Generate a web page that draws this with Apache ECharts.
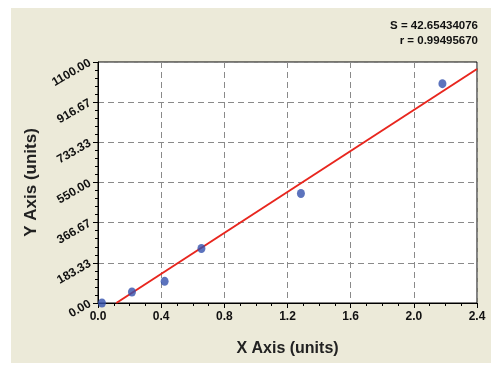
<!DOCTYPE html>
<html><head><meta charset="utf-8">
<script src="https://cdn.jsdelivr.net/npm/echarts@6/dist/echarts.min.js"></script>
<style>html,body{margin:0;padding:0;background:#fff}#c{width:501px;height:372px}</style>
</head><body><div id="c"></div>
<script>
const xValues = [0.025, 0.215, 0.422, 0.655, 1.285, 2.181];
const yValues = [0, 50, 99, 249, 500, 1001];
const fitX = [0.116, 2.4];
const fitY = [0, 1068];
const statLines = ['S = 42.65434076', 'r = 0.99495670'];
const xTitle = 'X Axis (units)';
const yTitle = 'Y Axis (units)';

const chart = echarts.init(document.getElementById('c'));
const font = 'Arial, "Liberation Sans", sans-serif';
const statGraphics = statLines.map((t, i) => ({
  type: 'text', right: 23, top: 20 + i * 15,
  style: {text: t, font: 'bold 11.5px ' + font, fill: '#111'}
}));
chart.setOption({
  backgroundColor: '#ffffff',
  animation: false,
  graphic: [
    {type: 'rect', z: -10, shape: {x: 11, y: 8, width: 480, height: 355}, style: {fill: '#ecead9'}}
  ].concat(statGraphics),
  grid: {left: 98, right: 24, top: 62, bottom: 69, show: true, backgroundColor: '#ffffff', borderColor: '#000', borderWidth: 1},
  xAxis: {
    type: 'value', min: 0, max: 2.4, interval: 0.4,
    name: xTitle, nameLocation: 'middle', nameGap: 38,
    nameTextStyle: {fontFamily: font, fontWeight: 'bold', fontSize: 16, color: '#222'},
    axisLine: {lineStyle: {color: '#000', width: 1}},
    axisTick: {show: true, length: 5, lineStyle: {color: '#000'}},
    minorTick: {show: true, splitNumber: 4, length: 3, lineStyle: {color: '#000'}},
    axisLabel: {formatter: v => v.toFixed(1), fontFamily: font, fontWeight: 'bold', fontSize: 12, color: '#111', margin: 8},
    splitLine: {show: true, lineStyle: {color: '#8a8a8a', type: [6, 4], width: 1}}
  },
  yAxis: {
    type: 'value', min: 0, max: 1100, interval: 1100 / 6,
    name: yTitle, nameLocation: 'middle', nameGap: 57, nameRotate: 90,
    nameTextStyle: {fontFamily: font, fontWeight: 'bold', fontSize: 17, color: '#222'},
    axisLine: {show: true, lineStyle: {color: '#000', width: 1}},
    axisTick: {show: true, length: 5, lineStyle: {color: '#000'}},
    minorTick: {show: true, splitNumber: 5, length: 3, lineStyle: {color: '#000'}},
    axisLabel: {formatter: v => v.toFixed(2), rotate: 30, fontFamily: font, fontWeight: 'bold', fontSize: 12, color: '#111', margin: 8},
    splitLine: {show: true, lineStyle: {color: '#8a8a8a', type: [6, 4], width: 1}}
  },
  series: [
    {type: 'line', data: fitX.map((x, i) => [x, fitY[i]]), symbol: 'none', lineStyle: {color: '#e8261e', width: 2}, z: 3},
    {type: 'scatter', data: xValues.map((x, i) => [x, yValues[i]]), symbol: 'circle', symbolSize: [8, 9], itemStyle: {color: '#3350ad'}, z: 4}
  ]
});
</script></body></html>
